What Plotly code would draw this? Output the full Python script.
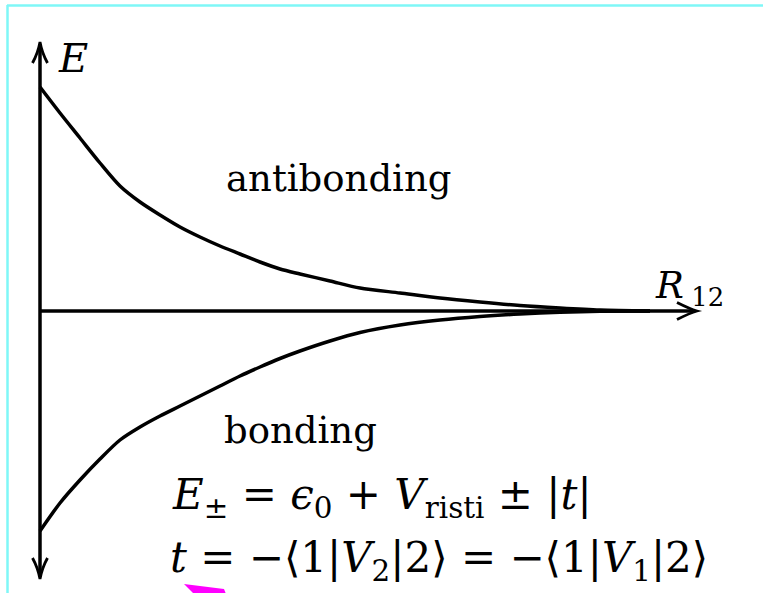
import plotly.graph_objects as go

# Bond length (arbitrary units) and the two energy branches (relative to eps0 + V_risti)
R = [0.0, 0.2, 0.4, 0.6, 0.8, 1.0, 1.2, 1.4, 1.6, 1.8, 2.0, 2.2, 2.4, 2.6, 2.9, 3.2, 3.6, 4.0, 4.4, 4.8, 5.2, 5.6, 6.1]
E_antibonding = [2.24, 1.98, 1.73, 1.48, 1.25, 1.09, 0.96, 0.84, 0.74, 0.65, 0.57, 0.49, 0.42, 0.37, 0.30,
                 0.23, 0.18, 0.13, 0.09, 0.055, 0.03, 0.01, 0.0]
E_bonding = [-2.20, -1.92, -1.69, -1.48, -1.29, -1.16, -1.05, -0.95, -0.85, -0.75, -0.65, -0.56, -0.475, -0.40,
             -0.30, -0.215, -0.14, -0.09, -0.055, -0.03, -0.012, -0.003, 0.0]

W, H = 763, 593
SERIF = "DejaVu Serif, serif"


def px(x):
    return x / W


def py(y):
    return 1 - y / H


fig = go.Figure()
for E in (E_antibonding, E_bonding):
    fig.add_trace(go.Scatter(x=R, y=E, mode="lines", line=dict(color="black", width=3.5, shape="spline", smoothing=0.8),
                             hoverinfo="skip", showlegend=False))

shapes = []
# axes
shapes.append(dict(type="line", xref="paper", yref="paper", x0=px(40), y0=py(311), x1=px(695), y1=py(311),
                   line=dict(color="black", width=3.5)))
shapes.append(dict(type="line", xref="paper", yref="paper", x0=px(40), y0=py(44), x1=px(40), y1=py(577),
                   line=dict(color="black", width=3.5)))


def head(tip, b1, b2, c1, c2):
    return ("M %f,%f Q %f,%f %f,%f Q %f,%f %f,%f" % (
        px(b1[0]), py(b1[1]), px(c1[0]), py(c1[1]), px(tip[0]), py(tip[1]),
        px(c2[0]), py(c2[1]), px(b2[0]), py(b2[1])))


arrow_line = dict(color="black", width=2.8)
shapes.append(dict(type="path", xref="paper", yref="paper", line=arrow_line,
                   path=head((697, 311), (677, 302.5), (677, 319.5), (690, 309), (690, 313))))
shapes.append(dict(type="path", xref="paper", yref="paper", line=arrow_line,
                   path=head((40, 42), (32.5, 63), (47.5, 63), (38, 53), (42, 53))))
shapes.append(dict(type="path", xref="paper", yref="paper", line=arrow_line,
                   path=head((40, 579), (32.5, 558), (47.5, 558), (38, 568), (42, 568))))

# frame lines
cyan = "#7ff7f7"
shapes.append(dict(type="line", xref="paper", yref="paper", x0=px(7), y0=py(5.5), x1=px(763), y1=py(5.5),
                   line=dict(color=cyan, width=2.5)))
shapes.append(dict(type="line", xref="paper", yref="paper", x0=px(7.5), y0=py(5), x1=px(7.5), y1=py(593),
                   line=dict(color=cyan, width=2.5)))

# small magenta marker
shapes.append(dict(type="path", xref="paper", yref="paper", fillcolor="#ff00ff", line=dict(width=0),
                   path="M %f,%f L %f,%f L %f,%f L %f,%f Z" % (px(184), py(584), px(224), py(589),
                                                          px(226), py(594), px(194), py(594))))

annotations = []


def label(text, x, y, size, xanchor="center"):
    annotations.append(dict(text=text, x=px(x), y=py(y), xref="paper", yref="paper", showarrow=False,
                            xanchor=xanchor, yanchor="middle", font=dict(family=SERIF, size=size, color="black")))


label("<i>E</i>", 73, 58, 40)
label("<i>R</i>\u2009<sub>12</sub>", 653, 288, 37, "left")
label("antibonding", 338, 178, 37)
label("bonding", 300, 430, 37)
label("<i>E</i><sub>±</sub> = <i>ϵ</i><sub>0</sub> + <i>V</i><sub>risti</sub> ± |<i>t</i>|", 170, 497, 42, "left")
label("<i>t</i> = −⟨1|<i>V</i><sub>2</sub>|2⟩ = −⟨1|<i>V</i><sub>1</sub>|2⟩", 168, 560, 42, "left")

fig.update_layout(
    width=W, height=H, margin=dict(l=0, r=0, t=0, b=0),
    paper_bgcolor="white", plot_bgcolor="white",
    xaxis=dict(range=[-0.40, 7.23], visible=False, fixedrange=True),
    yaxis=dict(range=[-2.82, 3.11], visible=False, fixedrange=True),
    shapes=shapes, annotations=annotations,
)
fig.write_html("out.html", config={"displayModeBar": False})
